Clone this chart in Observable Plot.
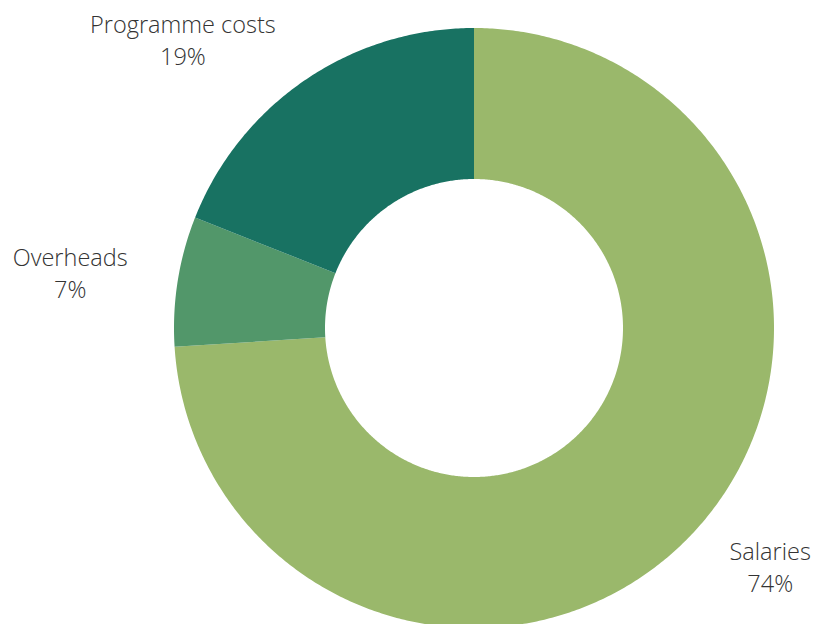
<!DOCTYPE html>
<html>
<head>
<meta charset="utf-8">
<script src="https://cdn.jsdelivr.net/npm/d3@7"></script>
<script src="https://cdn.jsdelivr.net/npm/@observablehq/plot@0.6"></script>
<style>
  html, body { margin: 0; padding: 0; background: #fff; }
  #chart svg { display: block; }
</style>
</head>
<body>
<div id="chart"></div>
<script>
// Data
const categories = ["Salaries", "Overheads", "Programme costs"];
const shares = [74, 7, 19];
const colors = ["#9AB86B", "#52976A", "#187262"];

// Layout (pixels)
const W = 819, H = 624;
const cx = 474, cy = 328, R = 300, innerFrac = 149 / 300;
// label offsets (px) from the outer-arc midpoint of each slice
const labelOffsets = [[77, 32], [-108, -10], [-123, -42]];

const pie = d3.pie().sort(null).value(d => d.value);
const arcs = pie(categories.map((c, i) => ({category: c, value: shares[i]})));

// Build ring polygon samples from pie angles (angle 0 = 12 o'clock, clockwise)
const ring = [];
for (const a of arcs) {
  const n = Math.max(2, Math.ceil((a.endAngle - a.startAngle) / (Math.PI / 360)));
  for (let k = 0; k <= n; k++) {
    const t = a.startAngle + (a.endAngle - a.startAngle) * k / n;
    const sx = Math.sin(t), sy = Math.cos(t);
    ring.push({category: a.data.category, x1: innerFrac * sx, y1: innerFrac * sy, x2: sx, y2: sy});
  }
}

const labels = arcs.map((a, i) => {
  const m = (a.startAngle + a.endAngle) / 2;
  return {
    text: `${a.data.category}\n${Math.round(a.data.value)}%`,
    x: Math.sin(m) + labelOffsets[i][0] / R,
    y: Math.cos(m) - labelOffsets[i][1] / R
  };
});

const chart = Plot.plot({
  width: W,
  height: H,
  margin: 0,
  x: {domain: [-cx / R, (W - cx) / R], axis: null},
  y: {domain: [-(H - cy) / R, cy / R], axis: null},
  color: {domain: categories, range: colors},
  style: {fontFamily: "'Open Sans', sans-serif", background: "#fff"},
  marks: [
    Plot.area(ring, {x1: "x1", y1: "y1", x2: "x2", y2: "y2", z: "category", fill: "category", curve: "linear"}),
    Plot.text(labels, {x: "x", y: "y", text: "text", fontSize: 23.5, fontWeight: 300, fill: "#333333", textAnchor: "middle", lineAnchor: "middle", lineHeight: 1.36})
  ]
});
document.getElementById("chart").appendChild(chart);
</script>
</body>
</html>
